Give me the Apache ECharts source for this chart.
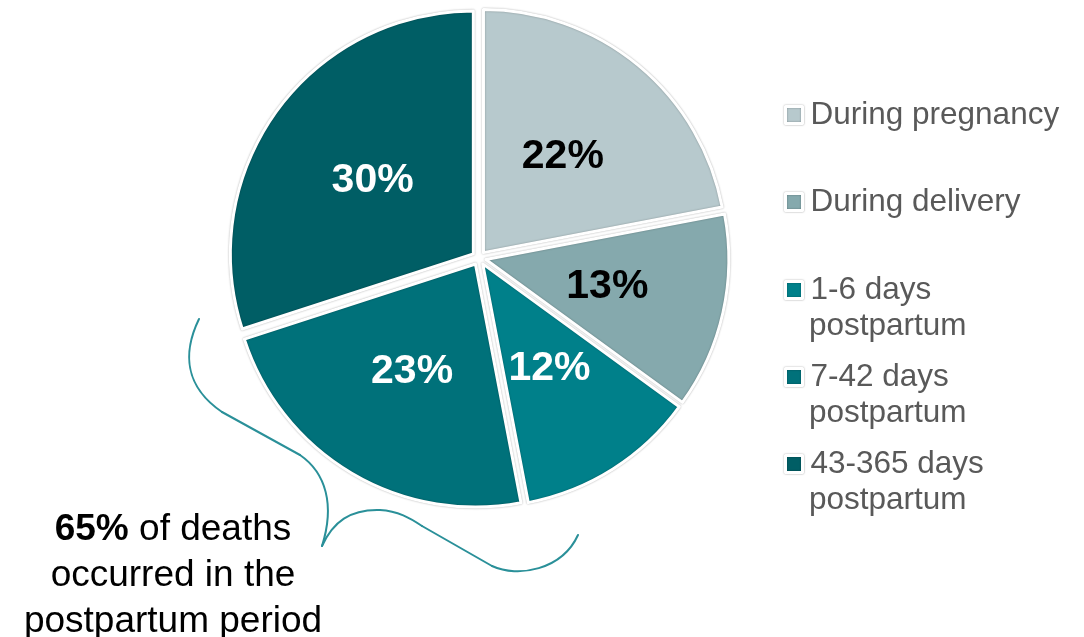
<!DOCTYPE html>
<html>
<head>
<meta charset="utf-8">
<script src="https://cdn.jsdelivr.net/npm/echarts@6/dist/echarts.min.js"></script>
<style>
  html, body { margin: 0; padding: 0; background: #ffffff; }
  #chart { width: 1084px; height: 637px; }
</style>
</head>
<body>
<div id="chart"></div>
<script>
// ---- data ----
const categories = ['During pregnancy', 'During delivery', '1-6 days\npostpartum', '7-42 days\npostpartum', '43-365 days\npostpartum'];
const values = [22, 13, 12, 23, 30];
const annotationBold = '65%';
const annotationRest = ' of deaths';
const annotationLines = ['occurred in the', 'postpartum period'];

// ---- styles / layout ----
const sliceColors = ['#b7c9cd', '#85a9ad', '#00808a', '#00717a', '#005e65'];
const labelColors = ['#000000', '#000000', '#ffffff', '#ffffff', '#ffffff'];
const legendIconCenterY = [115, 202, 290, 377, 464];
const LEGEND_LEFT = 784;
const FONT = '"Liberation Sans", Arial, Helvetica, sans-serif';
const LEG_LH = 36;
const LEG_FS = 31.5;
const BRACE_COLOR = '#2a9099';

// brace segments (decoration)
const braceSegments = [
  ['c', 199, 319, 183, 352, 184, 386, 222, 412],
  ['l', 222, 412, 300, 455],
  ['c', 300, 455, 326, 473, 335, 505, 322, 546],
  ['c', 322, 546, 333, 522, 350, 509, 380, 510],
  ['c', 380, 510, 398, 511, 410, 518, 422, 526],
  ['l', 422, 526, 492, 566],
  ['c', 492, 566, 518, 578, 562, 570, 578, 535]
];

const chart = echarts.init(document.getElementById('chart'), null, { renderer: 'canvas' });

const pieData = categories.map((name, i) => ({
  name: name,
  value: values[i],
  selected: true,
  itemStyle: { color: sliceColors[i] },
  label: { color: labelColors[i] }
}));

const legends = categories.map((name, i) => ({
  data: [name],
  orient: 'vertical',
  left: LEGEND_LEFT,
  top: legendIconCenterY[i] - LEG_LH / 2,
  padding: 0,
  selectedMode: false,
  icon: 'rect',
  itemWidth: 17,
  itemHeight: 17,
  formatter: n => n.split('\n')[0],
  itemStyle: {
    borderColor: '#ffffff',
    borderWidth: 3,
    shadowBlur: 2,
    shadowColor: 'rgba(0,0,0,0.35)'
  },
  textStyle: {
    fontFamily: FONT,
    fontSize: LEG_FS,
    color: '#595959',
    lineHeight: LEG_LH,
    padding: [0, 0, 0, 3]
  }
}));

// second lines of the two-line legend entries
const legendSecondLines = [];
categories.forEach((name, i) => {
  const parts = name.split('\n');
  if (parts.length > 1) {
    legendSecondLines.push({
      type: 'text', silent: true,
      x: LEGEND_LEFT + 17 + 5 + 3,
      y: legendIconCenterY[i] + LEG_LH,
      style: {
        text: parts.slice(1).join('\n'),
        fontFamily: FONT, fontSize: LEG_FS,
        fill: '#595959',
        align: 'left', verticalAlign: 'middle'
      }
    });
  }
});

const braceGraphics = braceSegments.map(s => {
  if (s[0] === 'l') {
    return {
      type: 'line', silent: true,
      shape: { x1: s[1], y1: s[2], x2: s[3], y2: s[4] },
      style: { stroke: BRACE_COLOR, lineWidth: 2, lineCap: 'round' }
    };
  }
  return {
    type: 'bezierCurve', silent: true,
    shape: { x1: s[1], y1: s[2], cpx1: s[3], cpy1: s[4], cpx2: s[5], cpy2: s[6], x2: s[7], y2: s[8] },
    style: { stroke: BRACE_COLOR, lineWidth: 2, fill: null, lineCap: 'round' }
  };
});

const option = {
  backgroundColor: '#ffffff',
  animation: false,
  legend: legends,
  series: [{
    type: 'pie',
    center: [479, 258],
    radius: 243,
    startAngle: 90,
    clockwise: true,
    selectedMode: 'multiple',
    selectedOffset: 7,
    avoidLabelOverlap: false,
    data: pieData,
    itemStyle: {
      borderColor: '#ffffff',
      borderWidth: 3,
      shadowBlur: 2,
      shadowColor: 'rgba(0,0,0,0.3)'
    },
    label: {
      show: true,
      position: 'inside',
      formatter: '{c}%',
      fontFamily: FONT,
      fontSize: 41,
      fontWeight: 'bold',
      offset: [1, 6]
    },
    labelLine: { show: false },
    emphasis: { disabled: true }
  }],
  graphic: braceGraphics.concat(legendSecondLines, [
    {
      type: 'text',
      x: 173,
      y: 507,
      silent: true,
      style: {
        text: '{b|' + annotationBold + '}{n|' + annotationRest + '}\n' +
              annotationLines.map(l => '{n|' + l + '}').join('\n'),
        align: 'center',
        verticalAlign: 'top',
        fill: '#000000',
        rich: {
          b: { fontFamily: FONT, fontSize: 37, fontWeight: 'bold', lineHeight: 46, fill: '#000000' },
          n: { fontFamily: FONT, fontSize: 37, lineHeight: 46, fill: '#000000' }
        }
      }
    }
  ])
};

chart.setOption(option);
</script>
</body>
</html>
